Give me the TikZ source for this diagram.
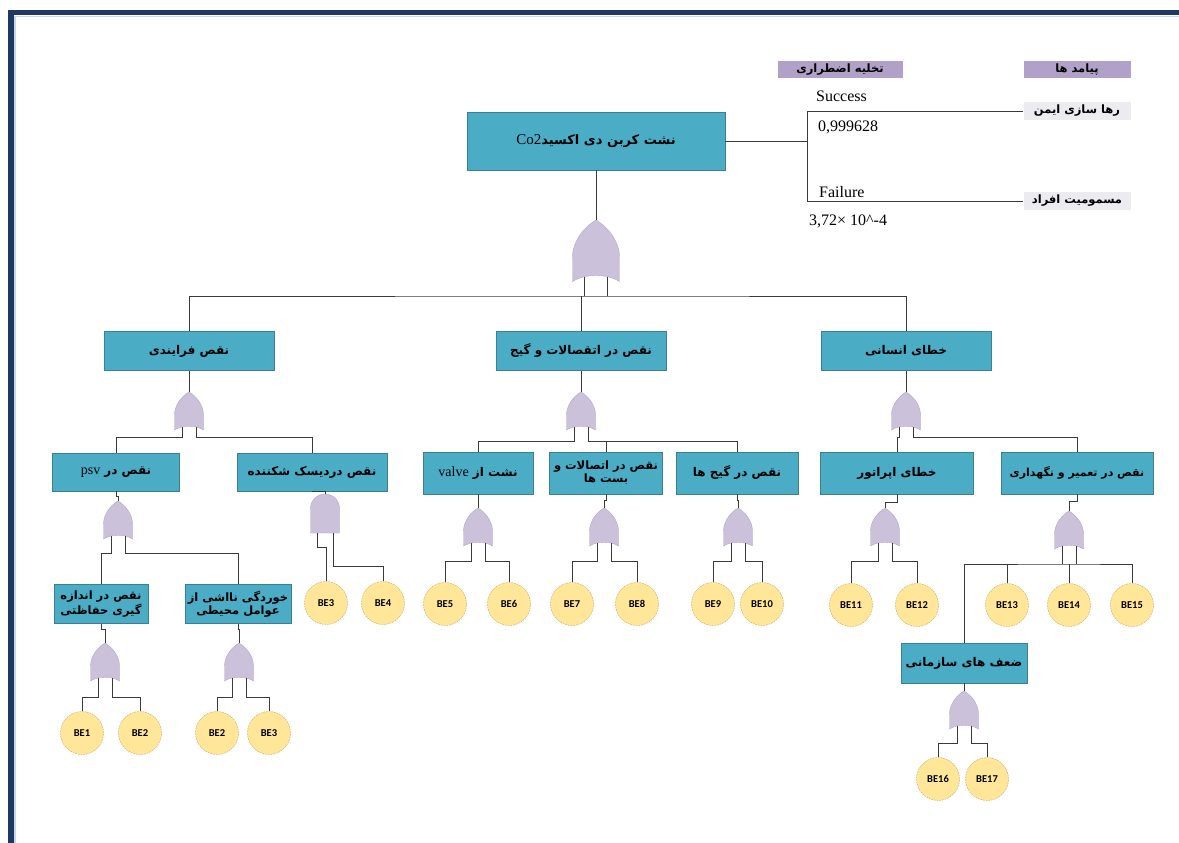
\documentclass[tikz,border=0pt]{standalone}
\usepackage{fontspec}
\usepackage{tikz}
\TeXXeTstate=1
\newfontfamily\farsifont[Script=Arabic]{DejaVu Sans}
\newfontfamily\serifont{Liberation Serif}
\newfontfamily\befont{Carlito}
\definecolor{frameblue}{HTML}{1F3864}
\definecolor{framelight}{HTML}{C9D8E8}
\definecolor{boxteal}{HTML}{4BACC6}
\definecolor{boxedge}{HTML}{3C7F90}
\definecolor{gatelilac}{HTML}{CCC1DA}
\definecolor{gateedge}{HTML}{B3A8C6}
\definecolor{befill}{HTML}{FFE699}
\definecolor{beedge}{HTML}{BCA25A}
\definecolor{headlilac}{HTML}{B1A0C7}
\definecolor{outgray}{HTML}{EBEBF0}
\definecolor{wiregray}{HTML}{3A3A3A}
\newcommand{\fatxt}[1]{{\farsifont\bfseries\beginR #1\endR}}

\begin{document}
\begin{tikzpicture}[x=1pt,y=-1pt,
  faultbox/.style={draw=boxedge, fill=boxteal, inner sep=2pt, align=center, font=\fontsize{12}{15}\selectfont},
  basic/.style={circle, draw=beedge, dash pattern=on 1.6pt off 1.1pt, fill=befill, minimum size=43pt, inner sep=0pt, font=\befont\bfseries\fontsize{10.5}{11}\selectfont},
  headbox/.style={fill=headlilac, minimum height=17pt, inner sep=0pt, font=\fontsize{11.5}{12}\selectfont},
  outbox/.style={fill=outgray, minimum width=107pt, minimum height=18pt, inner sep=0pt, font=\fontsize{11.5}{12}\selectfont},
  treetext/.style={anchor=west, inner sep=0pt, font=\serifont\fontsize{16}{18}\selectfont},
  link/.style={draw=wiregray, line width=0.8pt},
  gatestyle/.style={fill=gatelilac, draw=gateedge, line width=0.4pt},
  orgate/.pic={
    \path[gatestyle] (0,0) .. controls (7,4) and (14.5,13) .. (14.5,23) -- (14.5,38)
      .. controls (7,33) and (-7,33) .. (-14.5,38) -- (-14.5,23)
      .. controls (-14.5,13) and (-7,4) .. cycle;
    \coordinate (-top) at (0,0);
    \coordinate (-l) at (-7,35);
    \coordinate (-r) at (7,35);
  },
  andgate/.pic={
    \path[gatestyle] (-14.5,39) -- (-14.5,14.5) arc[start angle=180, end angle=360, radius=14.5] -- (14.5,39) -- cycle;
    \coordinate (-top) at (0,0);
    \coordinate (-l) at (-8,39);
    \coordinate (-r) at (8,39);
  }]
\useasboundingbox (0,0) rectangle (1179,843);
\fill[white] (0,0) rectangle (1179,843); %page
\fill[frameblue] (8,10) rectangle (1179,15.5); %frame top
\fill[frameblue] (8,10) rectangle (14,843); %frame left
\draw[framelight, line width=1.2pt] (15,843) -- (15,16.5) -- (1179,16.5);

% top event and event tree
\node[faultbox, minimum width=258pt, minimum height=58pt, font=\fontsize{13}{15}\selectfont] (top) at (596,141) {\fatxt{نشت کربن دی اکسید\beginL{\serifont\mdseries\fontsize{15}{16}\selectfont Co2}\endL}};
\node[headbox, minimum width=125pt] (esd) at (840,70) {\fatxt{تخلیه اضطراری}};
\node[headbox, minimum width=107pt] (outhead) at (1077,70) {\fatxt{پیامد ها}};
\node[outbox] (safe) at (1077,111) {\fatxt{رها سازی ایمن}};
\node[outbox] (toxic) at (1077,201) {\fatxt{مسمومیت افراد}};
\coordinate (split) at (807,141);
\draw[link] (top.east) -- (split);
\draw[link] (split) |- (safe.west);
\draw[link] (split) |- (toxic.west);
\node[treetext] (succ) at (816,96) {Success};
\node[treetext] (psucc) at (818,127) {0,999628};
\node[treetext] (fail) at (819,192) {Failure};
\node[treetext] (pfail) at (809,221) {3,72× 10\textasciicircum{}-4};

% top gate
\pic[scale=1.62] (g0) at (596,220) {orgate};
\draw[link] (top.south) -- (g0-top);

% second level
\node[faultbox, minimum width=170pt, minimum height=39pt] (proc) at (189,351) {\fatxt{نقص فرایندی}};
\node[faultbox, minimum width=170pt, minimum height=39pt] (conn) at (581,351) {\fatxt{نقص در اتقصالات و گیج}};
\node[faultbox, minimum width=170pt, minimum height=39pt] (human) at (906,351) {\fatxt{خطای انسانی}};
\coordinate (bus0) at (596,296);
\draw[link] (proc.north) |- (bus0) -| (human.north);
\draw[link] (conn.north) -- (conn.north |- bus0);
\draw[link] (g0-l) -- (g0-l |- bus0);
\draw[link] (g0-r) -- (g0-r |- bus0);
\pic (g1) at (189,392) {orgate};
\pic (g2) at (581,392) {orgate};
\pic (g3) at (906,392) {orgate};
\draw[link] (proc.south) -- (g1-top);
\draw[link] (conn.south) -- (g2-top);
\draw[link] (human.south) -- (g3-top);

% third level
\node[faultbox, minimum width=127pt, minimum height=38pt] (psv) at (116,472) {\fatxt{نقص در \beginL{\serifont\mdseries\fontsize{14}{15}\selectfont psv}\endL}};
\node[faultbox, minimum width=150pt, minimum height=38pt] (disk) at (312,472) {\fatxt{نقص دردیسک شکننده}};
\node[faultbox, minimum width=110pt, minimum height=42pt] (valve) at (478,473) {\fatxt{نشت از \beginL{\serifont\mdseries\fontsize{14}{15}\selectfont valve}\endL}};
\node[faultbox, minimum width=113pt, minimum height=42pt, font=\fontsize{11.5}{13}\selectfont] (joint) at (606,473) {\fatxt{نقص در اتصالات و}\\\fatxt{بست ها}};
\node[faultbox, minimum width=122pt, minimum height=42pt] (gauge) at (737,473) {\fatxt{نقص در گیج ها}};
\node[faultbox, minimum width=153pt, minimum height=42pt] (oper) at (897,473) {\fatxt{خطای اپراتور}};
\node[faultbox, minimum width=152pt, minimum height=42pt, font=\fontsize{11}{13}\selectfont] (maint) at (1077,473) {\fatxt{نقص در تعمیر و نگهداری}};
\draw[link] (g1-l) -- ++(0,10) -| (psv.north);
\draw[link] (g1-r) -- ++(0,10) -| (disk.north);
\draw[link] (g2-l) -- ++(0,14) -| (valve.north);
\draw[link] (g2-r) -- ++(0,14) -| (gauge.north);
\draw[link] (joint.north) -- ++(0,-11);
\draw[link] (g3-l) -- ++(0,10) -| (oper.north);
\draw[link] (g3-r) -- ++(0,10) -| (maint.north);

% third level gates
\pic (g4) at (118,501) {orgate};
\pic (g5) at (325,494) {andgate};
\pic (g6) at (478,508) {orgate};
\pic (g7) at (604,508) {orgate};
\pic (g8) at (738,508) {orgate};
\pic (g9) at (885,508) {orgate};
\pic (g10) at (1069,511) {orgate};
\draw[link] (psv.south) -- ++(0,5) -| (g4-top);
\draw[link] (disk.south) -| (g5-top);
\draw[link] (valve.south) -- (g6-top);
\draw[link] (joint.south) -- ++(0,6) -| (g7-top);
\draw[link] (gauge.south) -- ++(0,6) -| (g8-top);
\draw[link] (oper.south) -- ++(0,8) -| (g9-top);
\draw[link] (maint.south) -- ++(0,7) -| (g10-top);

% basic events, row 1
\node[basic] (be3b) at (326,603) {BE3};
\node[basic] (be4) at (383,603) {BE4};
\node[basic] (be5) at (445,604) {BE5};
\node[basic] (be6) at (509,604) {BE6};
\node[basic] (be7) at (572,604) {BE7};
\node[basic] (be8) at (637,604) {BE8};
\node[basic] (be9) at (713,604) {BE9};
\node[basic] (be10) at (762,604) {BE10};
\node[basic] (be11) at (851,605) {BE11};
\node[basic] (be12) at (917,605) {BE12};
\node[basic] (be13) at (1007,605) {BE13};
\node[basic] (be14) at (1069,605) {BE14};
\node[basic] (be15) at (1132,605) {BE15};
\draw[link] (g5-l) -- ++(0,14) -| (be3b.north);
\draw[link] (g5-r) -- ++(0,33) -| (be4.north);
\draw[link] (g6-l) -- ++(0,18) -| (be5.north);
\draw[link] (g6-r) -- ++(0,18) -| (be6.north);
\draw[link] (g7-l) -- ++(0,18) -| (be7.north);
\draw[link] (g7-r) -- ++(0,18) -| (be8.north);
\draw[link] (g8-l) -- ++(0,18) -| (be9.north);
\draw[link] (g8-r) -- ++(0,18) -| (be10.north);
\draw[link] (g9-l) -- ++(0,18) -| (be11.north);
\draw[link] (g9-r) -- ++(0,18) -| (be12.north);

% maintenance branch
\node[faultbox, minimum width=126pt, minimum height=40pt] (org) at (964,663) {\fatxt{ضعف های سازمانی}};
\coordinate (bus10) at (1069,564);
\draw[link] (org.north) |- (bus10) -| (be15.north);
\draw[link] (be13.north) -- (be13.north |- bus10);
\draw[link] (be14.north) -- (be14.north |- bus10);
\draw[link] (g10-l) -- (g10-l |- bus10);
\draw[link] (g10-r) -- (g10-r |- bus10);
\pic (g13) at (964,691) {orgate};
\draw[link] (org.south) -- (g13-top);
\node[basic] (be16) at (938,779) {BE16};
\node[basic] (be17) at (987,779) {BE17};
\draw[link] (g13-l) -- ++(0,17) -| (be16.north);
\draw[link] (g13-r) -- ++(0,17) -| (be17.north);

% psv branch
\node[faultbox, minimum width=94pt, minimum height=39pt, font=\fontsize{11.5}{13}\selectfont] (meas) at (101,604) {\fatxt{نقص در اندازه}\\\fatxt{گیری حفاظتی}};
\node[faultbox, minimum width=106pt, minimum height=39pt, font=\fontsize{11.5}{13}\selectfont] (corr) at (238,604) {\fatxt{خوردگی نااشی از}\\\fatxt{عوامل محیطی}};
\draw[link] (g4-l) -- ++(0,17) -| (meas.north);
\draw[link] (g4-r) -- ++(0,17) -| (corr.north);
\pic (g11) at (105,643) {orgate};
\pic (g12) at (239,643) {orgate};
\draw[link] (meas.south) -- ++(0,6) -| (g11-top);
\draw[link] (corr.south) -- ++(0,6) -| (g12-top);
\node[basic] (be1) at (82,733) {BE1};
\node[basic] (be2a) at (140,733) {BE2};
\node[basic] (be2b) at (217,733) {BE2};
\node[basic] (be3a) at (269,733) {BE3};
\draw[link] (g11-l) -- ++(0,19) -| (be1.north);
\draw[link] (g11-r) -- ++(0,19) -| (be2a.north);
\draw[link] (g12-l) -- ++(0,19) -| (be2b.north);
\draw[link] (g12-r) -- ++(0,19) -| (be3a.north);
\end{tikzpicture}
\end{document}
